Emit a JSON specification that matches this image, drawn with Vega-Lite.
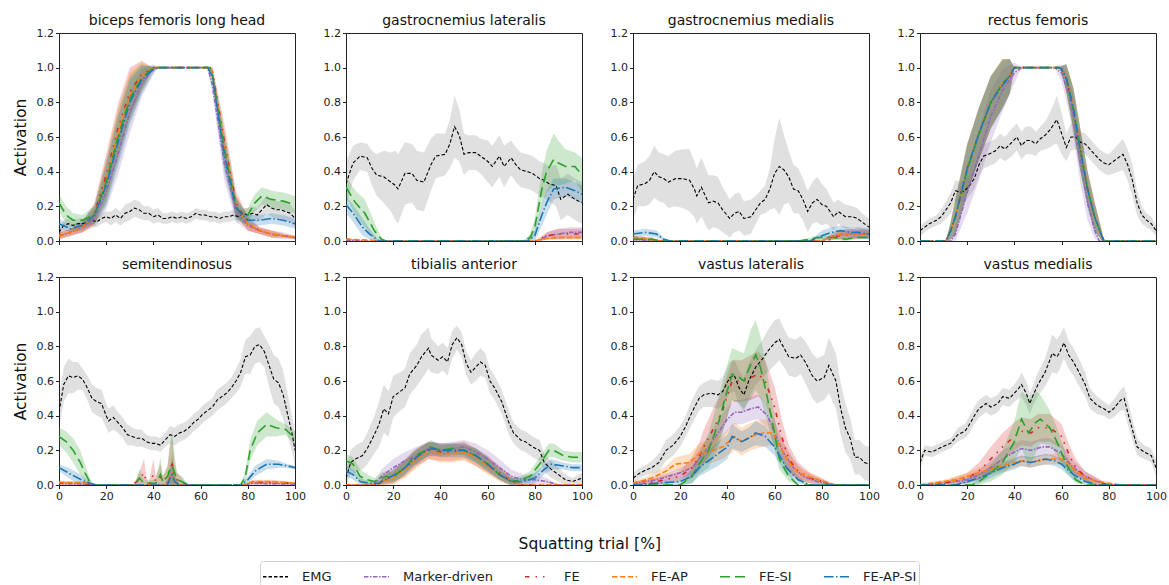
{
"$schema":"https://vega.github.io/schema/vega-lite/v6.json",
"background":"white",
"padding":{"left":12,"top":13,"right":5,"bottom":0},
"spacing":10,
"config":{
"font":"DejaVu Sans",
"view":{"stroke":"#222","strokeWidth":1},
"axis":{"domain":false,"grid":false,"ticks":true,"tickSize":3.5,"tickColor":"#222","labelFont":"DejaVu Sans","labelFontSize":11,"labelColor":"#222","labelPadding":2,"labelFlush":false,"titleFont":"DejaVu Sans","titleFontSize":15.5,"titleFontWeight":"normal","titleColor":"#111","titlePadding":8},
"title":{"font":"DejaVu Sans","fontSize":14,"fontWeight":"normal","color":"#111","offset":-1,"anchor":"middle"},
"legend":{"orient":"bottom","direction":"horizontal","title":null,"labelFont":"DejaVu Sans","labelFontSize":13,"labelColor":"#222","symbolType":"stroke","symbolSize":625,"symbolStrokeWidth":1.5,"labelOffset":13,"columnPadding":29,"strokeColor":"#d0d0d0","cornerRadius":3,"padding":2,"offset":8,"layout":{"bottom":{"anchor":"middle"}}}
},
"resolve":{"scale":{"color":"shared","strokeDash":"shared","opacity":"shared","strokeWidth":"shared","fill":"shared"},"legend":{"color":"shared","strokeDash":"shared"}},
"datasets":{
"bf":[
{"s":"E","x":0,"y":0.05,"d":0.02},{"s":"E","x":2,"y":0.09,"d":0.03},{"s":"E","x":4,"y":0.1,"d":0.03},{"s":"E","x":6,"y":0.09,"d":0.03},{"s":"E","x":8,"y":0.1,"d":0.03},{"s":"E","x":10,"y":0.1,"d":0.03},{"s":"E","x":12,"y":0.11,"d":0.03},{"s":"E","x":14,"y":0.12,"d":0.03},{"s":"E","x":16,"y":0.11,"d":0.03},{"s":"E","x":18,"y":0.13,"d":0.03},{"s":"E","x":20,"y":0.14,"d":0.03},{"s":"E","x":22,"y":0.13,"d":0.04},{"s":"E","x":24,"y":0.15,"d":0.04},{"s":"E","x":26,"y":0.13,"d":0.04},{"s":"E","x":28,"y":0.16,"d":0.05},{"s":"E","x":30,"y":0.17,"d":0.05},{"s":"E","x":32,"y":0.19,"d":0.05},{"s":"E","x":34,"y":0.18,"d":0.05},{"s":"E","x":36,"y":0.16,"d":0.04},{"s":"E","x":38,"y":0.16,"d":0.04},{"s":"E","x":40,"y":0.14,"d":0.04},{"s":"E","x":42,"y":0.15,"d":0.04},{"s":"E","x":44,"y":0.13,"d":0.03},{"s":"E","x":46,"y":0.13,"d":0.03},{"s":"E","x":48,"y":0.14,"d":0.03},{"s":"E","x":50,"y":0.13,"d":0.03},{"s":"E","x":52,"y":0.14,"d":0.03},{"s":"E","x":54,"y":0.13,"d":0.03},{"s":"E","x":56,"y":0.14,"d":0.03},{"s":"E","x":58,"y":0.16,"d":0.03},{"s":"E","x":60,"y":0.15,"d":0.03},{"s":"E","x":62,"y":0.15,"d":0.03},{"s":"E","x":64,"y":0.14,"d":0.03},{"s":"E","x":66,"y":0.14,"d":0.03},{"s":"E","x":68,"y":0.13,"d":0.03},{"s":"E","x":70,"y":0.14,"d":0.03},{"s":"E","x":72,"y":0.14,"d":0.03},{"s":"E","x":74,"y":0.15,"d":0.03},{"s":"E","x":76,"y":0.14,"d":0.03},{"s":"E","x":78,"y":0.16,"d":0.03},{"s":"E","x":80,"y":0.15,"d":0.04},{"s":"E","x":82,"y":0.16,"d":0.04},{"s":"E","x":84,"y":0.15,"d":0.04},{"s":"E","x":86,"y":0.18,"d":0.05},{"s":"E","x":88,"y":0.21,"d":0.05},{"s":"E","x":90,"y":0.19,"d":0.05},{"s":"E","x":92,"y":0.18,"d":0.05},{"s":"E","x":94,"y":0.18,"d":0.05},{"s":"E","x":96,"y":0.17,"d":0.05},{"s":"E","x":98,"y":0.16,"d":0.05},{"s":"E","x":100,"y":0.13,"d":0.05},
{"s":"M","x":0,"y":0.03,"d":0.02},{"s":"M","x":5,"y":0.05,"d":0.02},{"s":"M","x":10,"y":0.08,"d":0.03},{"s":"M","x":15,"y":0.13,"d":0.05},{"s":"M","x":20,"y":0.28,"d":0.1},{"s":"M","x":25,"y":0.5,"d":0.12},{"s":"M","x":30,"y":0.74,"d":0.12},{"s":"M","x":35,"y":0.91,"d":0.08},{"s":"M","x":40,"y":0.99,"d":0.03},{"s":"M","x":42,"y":1,"d":0},{"s":"M","x":63,"y":1,"d":0},{"s":"M","x":65,"y":0.9,"d":0.05},{"s":"M","x":70,"y":0.45,"d":0.1},{"s":"M","x":75,"y":0.17,"d":0.06},{"s":"M","x":80,"y":0.09,"d":0.03},{"s":"M","x":85,"y":0.06,"d":0.02},{"s":"M","x":90,"y":0.04,"d":0.02},{"s":"M","x":95,"y":0.03,"d":0.02},{"s":"M","x":100,"y":0.02,"d":0.01},
{"s":"F","x":0,"y":0.03,"d":0.02},{"s":"F","x":5,"y":0.05,"d":0.02},{"s":"F","x":10,"y":0.08,"d":0.03},{"s":"F","x":15,"y":0.16,"d":0.06},{"s":"F","x":20,"y":0.38,"d":0.12},{"s":"F","x":25,"y":0.65,"d":0.14},{"s":"F","x":30,"y":0.86,"d":0.14},{"s":"F","x":35,"y":0.96,"d":0.08},{"s":"F","x":40,"y":1,"d":0},{"s":"F","x":64,"y":1,"d":0},{"s":"F","x":65,"y":0.98,"d":0.03},{"s":"F","x":70,"y":0.58,"d":0.1},{"s":"F","x":75,"y":0.22,"d":0.07},{"s":"F","x":80,"y":0.1,"d":0.04},{"s":"F","x":85,"y":0.06,"d":0.02},{"s":"F","x":90,"y":0.04,"d":0.02},{"s":"F","x":95,"y":0.03,"d":0.01},{"s":"F","x":100,"y":0.02,"d":0.01},
{"s":"A","x":0,"y":0.03,"d":0.02},{"s":"A","x":5,"y":0.05,"d":0.02},{"s":"A","x":10,"y":0.08,"d":0.03},{"s":"A","x":15,"y":0.15,"d":0.06},{"s":"A","x":20,"y":0.35,"d":0.12},{"s":"A","x":25,"y":0.62,"d":0.14},{"s":"A","x":30,"y":0.84,"d":0.13},{"s":"A","x":35,"y":0.95,"d":0.08},{"s":"A","x":40,"y":1,"d":0},{"s":"A","x":64,"y":1,"d":0},{"s":"A","x":65,"y":0.97,"d":0.03},{"s":"A","x":70,"y":0.54,"d":0.1},{"s":"A","x":75,"y":0.2,"d":0.06},{"s":"A","x":80,"y":0.1,"d":0.04},{"s":"A","x":85,"y":0.06,"d":0.02},{"s":"A","x":90,"y":0.04,"d":0.02},{"s":"A","x":95,"y":0.03,"d":0.01},{"s":"A","x":100,"y":0.02,"d":0.01},
{"s":"S","x":0,"y":0.22,"d":0.05},{"s":"S","x":3,"y":0.15,"d":0.05},{"s":"S","x":6,"y":0.12,"d":0.04},{"s":"S","x":10,"y":0.12,"d":0.03},{"s":"S","x":15,"y":0.15,"d":0.05},{"s":"S","x":20,"y":0.34,"d":0.12},{"s":"S","x":25,"y":0.6,"d":0.14},{"s":"S","x":30,"y":0.82,"d":0.13},{"s":"S","x":35,"y":0.94,"d":0.08},{"s":"S","x":40,"y":1,"d":0},{"s":"S","x":64,"y":1,"d":0},{"s":"S","x":65,"y":0.96,"d":0.03},{"s":"S","x":70,"y":0.53,"d":0.1},{"s":"S","x":75,"y":0.2,"d":0.06},{"s":"S","x":78,"y":0.14,"d":0.04},{"s":"S","x":80,"y":0.15,"d":0.04},{"s":"S","x":83,"y":0.22,"d":0.05},{"s":"S","x":86,"y":0.26,"d":0.05},{"s":"S","x":90,"y":0.24,"d":0.05},{"s":"S","x":95,"y":0.23,"d":0.05},{"s":"S","x":100,"y":0.21,"d":0.05},
{"s":"P","x":0,"y":0.1,"d":0.03},{"s":"P","x":5,"y":0.07,"d":0.02},{"s":"P","x":10,"y":0.09,"d":0.03},{"s":"P","x":15,"y":0.15,"d":0.05},{"s":"P","x":20,"y":0.32,"d":0.12},{"s":"P","x":25,"y":0.57,"d":0.14},{"s":"P","x":30,"y":0.8,"d":0.13},{"s":"P","x":35,"y":0.93,"d":0.08},{"s":"P","x":40,"y":0.99,"d":0.02},{"s":"P","x":42,"y":1,"d":0},{"s":"P","x":63,"y":1,"d":0},{"s":"P","x":65,"y":0.95,"d":0.04},{"s":"P","x":70,"y":0.5,"d":0.1},{"s":"P","x":75,"y":0.19,"d":0.06},{"s":"P","x":80,"y":0.12,"d":0.03},{"s":"P","x":85,"y":0.12,"d":0.03},{"s":"P","x":90,"y":0.13,"d":0.03},{"s":"P","x":95,"y":0.12,"d":0.03},{"s":"P","x":100,"y":0.1,"d":0.03}
],
"gl":[
{"s":"E","x":0,"y":0.33,"d":0.13},{"s":"E","x":3,"y":0.45,"d":0.1},{"s":"E","x":6,"y":0.49,"d":0.08},{"s":"E","x":9,"y":0.48,"d":0.08},{"s":"E","x":11,"y":0.42,"d":0.1},{"s":"E","x":13,"y":0.38,"d":0.12},{"s":"E","x":16,"y":0.37,"d":0.15},{"s":"E","x":19,"y":0.34,"d":0.17},{"s":"E","x":21,"y":0.32,"d":0.2},{"s":"E","x":22,"y":0.3,"d":0.2},{"s":"E","x":25,"y":0.39,"d":0.18},{"s":"E","x":28,"y":0.39,"d":0.17},{"s":"E","x":30,"y":0.35,"d":0.17},{"s":"E","x":33,"y":0.34,"d":0.17},{"s":"E","x":36,"y":0.44,"d":0.15},{"s":"E","x":38,"y":0.49,"d":0.13},{"s":"E","x":42,"y":0.5,"d":0.12},{"s":"E","x":44,"y":0.56,"d":0.14},{"s":"E","x":46,"y":0.66,"d":0.18},{"s":"E","x":48,"y":0.61,"d":0.15},{"s":"E","x":50,"y":0.5,"d":0.12},{"s":"E","x":52,"y":0.51,"d":0.1},{"s":"E","x":55,"y":0.51,"d":0.1},{"s":"E","x":57,"y":0.49,"d":0.1},{"s":"E","x":60,"y":0.46,"d":0.12},{"s":"E","x":62,"y":0.43,"d":0.12},{"s":"E","x":65,"y":0.49,"d":0.12},{"s":"E","x":67,"y":0.43,"d":0.12},{"s":"E","x":70,"y":0.48,"d":0.1},{"s":"E","x":72,"y":0.44,"d":0.1},{"s":"E","x":74,"y":0.41,"d":0.1},{"s":"E","x":77,"y":0.4,"d":0.1},{"s":"E","x":79,"y":0.39,"d":0.1},{"s":"E","x":82,"y":0.36,"d":0.1},{"s":"E","x":84,"y":0.35,"d":0.1},{"s":"E","x":86,"y":0.33,"d":0.1},{"s":"E","x":89,"y":0.32,"d":0.12},{"s":"E","x":91,"y":0.24,"d":0.12},{"s":"E","x":94,"y":0.27,"d":0.12},{"s":"E","x":97,"y":0.24,"d":0.12},{"s":"E","x":100,"y":0.22,"d":0.12},
{"s":"M","x":0,"y":0.005,"d":0.005},{"s":"M","x":10,"y":0,"d":0},{"s":"M","x":82,"y":0,"d":0},{"s":"M","x":85,"y":0.03,"d":0.02},{"s":"M","x":90,"y":0.04,"d":0.03},{"s":"M","x":95,"y":0.05,"d":0.03},{"s":"M","x":100,"y":0.05,"d":0.03},
{"s":"F","x":0,"y":0.01,"d":0.005},{"s":"F","x":10,"y":0,"d":0},{"s":"F","x":80,"y":0,"d":0},{"s":"F","x":85,"y":0.03,"d":0.02},{"s":"F","x":90,"y":0.04,"d":0.03},{"s":"F","x":95,"y":0.04,"d":0.03},{"s":"F","x":100,"y":0.04,"d":0.03},
{"s":"A","x":0,"y":0.01,"d":0.005},{"s":"A","x":10,"y":0.005,"d":0},{"s":"A","x":15,"y":0,"d":0},{"s":"A","x":80,"y":0,"d":0},{"s":"A","x":85,"y":0.015,"d":0.01},{"s":"A","x":90,"y":0.02,"d":0.01},{"s":"A","x":100,"y":0.02,"d":0.01},
{"s":"S","x":0,"y":0.31,"d":0.06},{"s":"S","x":4,"y":0.22,"d":0.07},{"s":"S","x":8,"y":0.16,"d":0.08},{"s":"S","x":12,"y":0.06,"d":0.05},{"s":"S","x":15,"y":0.01,"d":0.01},{"s":"S","x":17,"y":0,"d":0},{"s":"S","x":75,"y":0,"d":0},{"s":"S","x":78,"y":0.02,"d":0.02},{"s":"S","x":80,"y":0.08,"d":0.05},{"s":"S","x":83,"y":0.3,"d":0.1},{"s":"S","x":85,"y":0.4,"d":0.12},{"s":"S","x":88,"y":0.47,"d":0.15},{"s":"S","x":90,"y":0.45,"d":0.13},{"s":"S","x":93,"y":0.43,"d":0.1},{"s":"S","x":97,"y":0.43,"d":0.08},{"s":"S","x":100,"y":0.38,"d":0.1},
{"s":"P","x":0,"y":0.21,"d":0.05},{"s":"P","x":3,"y":0.16,"d":0.05},{"s":"P","x":7,"y":0.08,"d":0.05},{"s":"P","x":10,"y":0.04,"d":0.03},{"s":"P","x":14,"y":0,"d":0},{"s":"P","x":77,"y":0,"d":0},{"s":"P","x":80,"y":0.03,"d":0.03},{"s":"P","x":83,"y":0.15,"d":0.06},{"s":"P","x":85,"y":0.22,"d":0.07},{"s":"P","x":88,"y":0.3,"d":0.06},{"s":"P","x":93,"y":0.31,"d":0.05},{"s":"P","x":97,"y":0.29,"d":0.05},{"s":"P","x":100,"y":0.27,"d":0.05}
],
"gm":[
{"s":"E","x":0,"y":0.24,"d":0.12},{"s":"E","x":2,"y":0.32,"d":0.12},{"s":"E","x":5,"y":0.33,"d":0.13},{"s":"E","x":7,"y":0.35,"d":0.14},{"s":"E","x":9,"y":0.4,"d":0.15},{"s":"E","x":11,"y":0.37,"d":0.14},{"s":"E","x":13,"y":0.36,"d":0.14},{"s":"E","x":15,"y":0.34,"d":0.15},{"s":"E","x":18,"y":0.36,"d":0.16},{"s":"E","x":21,"y":0.36,"d":0.17},{"s":"E","x":24,"y":0.35,"d":0.18},{"s":"E","x":26,"y":0.3,"d":0.16},{"s":"E","x":27,"y":0.26,"d":0.16},{"s":"E","x":29,"y":0.31,"d":0.17},{"s":"E","x":32,"y":0.22,"d":0.16},{"s":"E","x":34,"y":0.23,"d":0.15},{"s":"E","x":36,"y":0.22,"d":0.15},{"s":"E","x":38,"y":0.18,"d":0.13},{"s":"E","x":41,"y":0.13,"d":0.11},{"s":"E","x":43,"y":0.16,"d":0.11},{"s":"E","x":45,"y":0.17,"d":0.11},{"s":"E","x":47,"y":0.13,"d":0.1},{"s":"E","x":50,"y":0.14,"d":0.1},{"s":"E","x":52,"y":0.18,"d":0.08},{"s":"E","x":54,"y":0.22,"d":0.07},{"s":"E","x":56,"y":0.24,"d":0.08},{"s":"E","x":58,"y":0.3,"d":0.12},{"s":"E","x":60,"y":0.39,"d":0.2},{"s":"E","x":62,"y":0.43,"d":0.28},{"s":"E","x":64,"y":0.41,"d":0.2},{"s":"E","x":66,"y":0.37,"d":0.15},{"s":"E","x":68,"y":0.3,"d":0.14},{"s":"E","x":70,"y":0.29,"d":0.13},{"s":"E","x":72,"y":0.24,"d":0.12},{"s":"E","x":74,"y":0.17,"d":0.12},{"s":"E","x":76,"y":0.22,"d":0.12},{"s":"E","x":78,"y":0.24,"d":0.13},{"s":"E","x":80,"y":0.21,"d":0.12},{"s":"E","x":82,"y":0.2,"d":0.1},{"s":"E","x":85,"y":0.14,"d":0.08},{"s":"E","x":87,"y":0.17,"d":0.07},{"s":"E","x":90,"y":0.14,"d":0.07},{"s":"E","x":93,"y":0.14,"d":0.06},{"s":"E","x":95,"y":0.13,"d":0.06},{"s":"E","x":97,"y":0.11,"d":0.05},{"s":"E","x":100,"y":0.08,"d":0.05},
{"s":"M","x":0,"y":0.01,"d":0.01},{"s":"M","x":10,"y":0,"d":0},{"s":"M","x":80,"y":0,"d":0},{"s":"M","x":85,"y":0.03,"d":0.02},{"s":"M","x":90,"y":0.04,"d":0.03},{"s":"M","x":100,"y":0.04,"d":0.03},
{"s":"F","x":0,"y":0.02,"d":0.01},{"s":"F","x":8,"y":0.01,"d":0.01},{"s":"F","x":12,"y":0,"d":0},{"s":"F","x":82,"y":0,"d":0},{"s":"F","x":87,"y":0.03,"d":0.02},{"s":"F","x":92,"y":0.04,"d":0.03},{"s":"F","x":100,"y":0.04,"d":0.02},
{"s":"A","x":0,"y":0.02,"d":0.01},{"s":"A","x":5,"y":0.015,"d":0.01},{"s":"A","x":10,"y":0,"d":0},{"s":"A","x":80,"y":0,"d":0},{"s":"A","x":85,"y":0.03,"d":0.02},{"s":"A","x":90,"y":0.04,"d":0.02},{"s":"A","x":100,"y":0.04,"d":0.02},
{"s":"S","x":0,"y":0.01,"d":0.01},{"s":"S","x":8,"y":0.01,"d":0.01},{"s":"S","x":12,"y":0,"d":0},{"s":"S","x":70,"y":0,"d":0},{"s":"S","x":75,"y":0.01,"d":0.01},{"s":"S","x":78,"y":0.02,"d":0.01},{"s":"S","x":85,"y":0.02,"d":0.01},{"s":"S","x":90,"y":0.01,"d":0.01},{"s":"S","x":95,"y":0.02,"d":0.01},{"s":"S","x":100,"y":0.02,"d":0.01},
{"s":"P","x":0,"y":0.04,"d":0.02},{"s":"P","x":5,"y":0.05,"d":0.02},{"s":"P","x":10,"y":0.04,"d":0.02},{"s":"P","x":13,"y":0.01,"d":0.01},{"s":"P","x":16,"y":0,"d":0},{"s":"P","x":75,"y":0,"d":0},{"s":"P","x":80,"y":0.03,"d":0.03},{"s":"P","x":84,"y":0.05,"d":0.03},{"s":"P","x":88,"y":0.06,"d":0.03},{"s":"P","x":92,"y":0.05,"d":0.03},{"s":"P","x":96,"y":0.05,"d":0.03},{"s":"P","x":100,"y":0.04,"d":0.03}
],
"rf":[
{"s":"E","x":0,"y":0.06,"d":0.03},{"s":"E","x":2,"y":0.08,"d":0.03},{"s":"E","x":4,"y":0.1,"d":0.03},{"s":"E","x":7,"y":0.12,"d":0.03},{"s":"E","x":9,"y":0.14,"d":0.04},{"s":"E","x":11,"y":0.18,"d":0.05},{"s":"E","x":13,"y":0.22,"d":0.06},{"s":"E","x":15,"y":0.29,"d":0.06},{"s":"E","x":17,"y":0.28,"d":0.06},{"s":"E","x":19,"y":0.29,"d":0.06},{"s":"E","x":21,"y":0.32,"d":0.06},{"s":"E","x":23,"y":0.36,"d":0.06},{"s":"E","x":25,"y":0.44,"d":0.07},{"s":"E","x":27,"y":0.49,"d":0.07},{"s":"E","x":29,"y":0.5,"d":0.07},{"s":"E","x":32,"y":0.52,"d":0.07},{"s":"E","x":34,"y":0.55,"d":0.07},{"s":"E","x":36,"y":0.53,"d":0.07},{"s":"E","x":39,"y":0.57,"d":0.08},{"s":"E","x":41,"y":0.6,"d":0.08},{"s":"E","x":43,"y":0.55,"d":0.08},{"s":"E","x":45,"y":0.58,"d":0.08},{"s":"E","x":47,"y":0.58,"d":0.08},{"s":"E","x":49,"y":0.56,"d":0.07},{"s":"E","x":51,"y":0.59,"d":0.07},{"s":"E","x":53,"y":0.61,"d":0.08},{"s":"E","x":55,"y":0.64,"d":0.1},{"s":"E","x":57,"y":0.68,"d":0.12},{"s":"E","x":58,"y":0.7,"d":0.14},{"s":"E","x":60,"y":0.62,"d":0.12},{"s":"E","x":62,"y":0.54,"d":0.08},{"s":"E","x":64,"y":0.6,"d":0.08},{"s":"E","x":66,"y":0.6,"d":0.07},{"s":"E","x":68,"y":0.57,"d":0.06},{"s":"E","x":70,"y":0.56,"d":0.06},{"s":"E","x":72,"y":0.53,"d":0.06},{"s":"E","x":74,"y":0.5,"d":0.06},{"s":"E","x":76,"y":0.47,"d":0.06},{"s":"E","x":78,"y":0.45,"d":0.06},{"s":"E","x":80,"y":0.44,"d":0.06},{"s":"E","x":82,"y":0.46,"d":0.07},{"s":"E","x":84,"y":0.48,"d":0.08},{"s":"E","x":86,"y":0.5,"d":0.09},{"s":"E","x":88,"y":0.44,"d":0.09},{"s":"E","x":90,"y":0.35,"d":0.09},{"s":"E","x":92,"y":0.22,"d":0.07},{"s":"E","x":94,"y":0.15,"d":0.05},{"s":"E","x":96,"y":0.12,"d":0.04},{"s":"E","x":98,"y":0.1,"d":0.04},{"s":"E","x":100,"y":0.06,"d":0.03},
{"s":"M","x":0,"y":0,"d":0},{"s":"M","x":13,"y":0,"d":0},{"s":"M","x":15,"y":0.04,"d":0.04},{"s":"M","x":20,"y":0.28,"d":0.12},{"s":"M","x":25,"y":0.5,"d":0.15},{"s":"M","x":30,"y":0.72,"d":0.15},{"s":"M","x":35,"y":0.87,"d":0.12},{"s":"M","x":40,"y":0.97,"d":0.06},{"s":"M","x":43,"y":1,"d":0},{"s":"M","x":57,"y":1,"d":0},{"s":"M","x":60,"y":0.97,"d":0.05},{"s":"M","x":63,"y":0.85,"d":0.1},{"s":"M","x":65,"y":0.72,"d":0.12},{"s":"M","x":68,"y":0.45,"d":0.12},{"s":"M","x":71,"y":0.22,"d":0.1},{"s":"M","x":74,"y":0.06,"d":0.05},{"s":"M","x":76,"y":0,"d":0},{"s":"M","x":100,"y":0,"d":0},
{"s":"F","x":0,"y":0,"d":0},{"s":"F","x":11,"y":0,"d":0},{"s":"F","x":13,"y":0.06,"d":0.05},{"s":"F","x":15,"y":0.14,"d":0.1},{"s":"F","x":20,"y":0.42,"d":0.14},{"s":"F","x":25,"y":0.62,"d":0.15},{"s":"F","x":30,"y":0.8,"d":0.15},{"s":"F","x":35,"y":0.91,"d":0.14},{"s":"F","x":38,"y":0.95,"d":0.1},{"s":"F","x":40,"y":1,"d":0},{"s":"F","x":59,"y":1,"d":0},{"s":"F","x":60,"y":0.99,"d":0.02},{"s":"F","x":62,"y":0.94,"d":0.08},{"s":"F","x":65,"y":0.76,"d":0.12},{"s":"F","x":68,"y":0.52,"d":0.12},{"s":"F","x":71,"y":0.3,"d":0.1},{"s":"F","x":74,"y":0.14,"d":0.08},{"s":"F","x":77,"y":0.03,"d":0.03},{"s":"F","x":78,"y":0,"d":0},{"s":"F","x":100,"y":0,"d":0},
{"s":"A","x":0,"y":0,"d":0},{"s":"A","x":11,"y":0,"d":0},{"s":"A","x":13,"y":0.06,"d":0.05},{"s":"A","x":15,"y":0.14,"d":0.1},{"s":"A","x":20,"y":0.42,"d":0.14},{"s":"A","x":25,"y":0.62,"d":0.15},{"s":"A","x":30,"y":0.8,"d":0.15},{"s":"A","x":35,"y":0.91,"d":0.14},{"s":"A","x":38,"y":0.95,"d":0.1},{"s":"A","x":40,"y":1,"d":0},{"s":"A","x":59,"y":1,"d":0},{"s":"A","x":60,"y":0.99,"d":0.02},{"s":"A","x":62,"y":0.94,"d":0.08},{"s":"A","x":65,"y":0.77,"d":0.12},{"s":"A","x":68,"y":0.53,"d":0.12},{"s":"A","x":71,"y":0.31,"d":0.1},{"s":"A","x":74,"y":0.15,"d":0.08},{"s":"A","x":77,"y":0.03,"d":0.03},{"s":"A","x":78,"y":0,"d":0},{"s":"A","x":100,"y":0,"d":0},
{"s":"S","x":0,"y":0,"d":0},{"s":"S","x":11,"y":0,"d":0},{"s":"S","x":13,"y":0.06,"d":0.05},{"s":"S","x":15,"y":0.14,"d":0.1},{"s":"S","x":20,"y":0.41,"d":0.14},{"s":"S","x":25,"y":0.62,"d":0.15},{"s":"S","x":30,"y":0.8,"d":0.15},{"s":"S","x":35,"y":0.91,"d":0.14},{"s":"S","x":38,"y":0.95,"d":0.1},{"s":"S","x":40,"y":1,"d":0},{"s":"S","x":59,"y":1,"d":0},{"s":"S","x":60,"y":0.99,"d":0.02},{"s":"S","x":62,"y":0.94,"d":0.08},{"s":"S","x":65,"y":0.76,"d":0.12},{"s":"S","x":68,"y":0.52,"d":0.12},{"s":"S","x":71,"y":0.3,"d":0.1},{"s":"S","x":74,"y":0.14,"d":0.08},{"s":"S","x":77,"y":0.03,"d":0.03},{"s":"S","x":78,"y":0,"d":0},{"s":"S","x":100,"y":0,"d":0},
{"s":"P","x":0,"y":0,"d":0},{"s":"P","x":11,"y":0,"d":0},{"s":"P","x":13,"y":0.06,"d":0.05},{"s":"P","x":15,"y":0.14,"d":0.1},{"s":"P","x":20,"y":0.42,"d":0.14},{"s":"P","x":25,"y":0.62,"d":0.15},{"s":"P","x":30,"y":0.8,"d":0.15},{"s":"P","x":35,"y":0.9,"d":0.14},{"s":"P","x":38,"y":0.95,"d":0.1},{"s":"P","x":40,"y":1,"d":0},{"s":"P","x":59,"y":1,"d":0},{"s":"P","x":60,"y":0.99,"d":0.02},{"s":"P","x":62,"y":0.94,"d":0.08},{"s":"P","x":65,"y":0.76,"d":0.12},{"s":"P","x":68,"y":0.52,"d":0.12},{"s":"P","x":71,"y":0.3,"d":0.1},{"s":"P","x":74,"y":0.14,"d":0.08},{"s":"P","x":77,"y":0.03,"d":0.03},{"s":"P","x":78,"y":0,"d":0},{"s":"P","x":100,"y":0,"d":0}
],
"st":[
{"s":"E","x":0,"y":0.42,"d":0.1},{"s":"E","x":2,"y":0.58,"d":0.1},{"s":"E","x":4,"y":0.63,"d":0.1},{"s":"E","x":6,"y":0.62,"d":0.09},{"s":"E","x":8,"y":0.63,"d":0.08},{"s":"E","x":10,"y":0.61,"d":0.06},{"s":"E","x":12,"y":0.56,"d":0.07},{"s":"E","x":14,"y":0.5,"d":0.08},{"s":"E","x":16,"y":0.48,"d":0.08},{"s":"E","x":18,"y":0.47,"d":0.08},{"s":"E","x":20,"y":0.4,"d":0.07},{"s":"E","x":21,"y":0.37,"d":0.07},{"s":"E","x":23,"y":0.39,"d":0.07},{"s":"E","x":25,"y":0.36,"d":0.06},{"s":"E","x":27,"y":0.33,"d":0.06},{"s":"E","x":29,"y":0.29,"d":0.06},{"s":"E","x":31,"y":0.28,"d":0.05},{"s":"E","x":33,"y":0.27,"d":0.05},{"s":"E","x":35,"y":0.27,"d":0.05},{"s":"E","x":37,"y":0.25,"d":0.04},{"s":"E","x":39,"y":0.24,"d":0.04},{"s":"E","x":41,"y":0.24,"d":0.04},{"s":"E","x":43,"y":0.23,"d":0.04},{"s":"E","x":45,"y":0.26,"d":0.04},{"s":"E","x":47,"y":0.29,"d":0.05},{"s":"E","x":49,"y":0.28,"d":0.05},{"s":"E","x":51,"y":0.3,"d":0.05},{"s":"E","x":53,"y":0.31,"d":0.05},{"s":"E","x":55,"y":0.33,"d":0.05},{"s":"E","x":57,"y":0.36,"d":0.05},{"s":"E","x":59,"y":0.38,"d":0.05},{"s":"E","x":61,"y":0.41,"d":0.05},{"s":"E","x":63,"y":0.43,"d":0.05},{"s":"E","x":65,"y":0.45,"d":0.05},{"s":"E","x":67,"y":0.49,"d":0.06},{"s":"E","x":69,"y":0.51,"d":0.06},{"s":"E","x":71,"y":0.53,"d":0.06},{"s":"E","x":73,"y":0.56,"d":0.06},{"s":"E","x":75,"y":0.6,"d":0.07},{"s":"E","x":77,"y":0.65,"d":0.08},{"s":"E","x":79,"y":0.74,"d":0.1},{"s":"E","x":81,"y":0.75,"d":0.11},{"s":"E","x":83,"y":0.8,"d":0.1},{"s":"E","x":85,"y":0.81,"d":0.1},{"s":"E","x":87,"y":0.77,"d":0.09},{"s":"E","x":89,"y":0.69,"d":0.12},{"s":"E","x":91,"y":0.61,"d":0.14},{"s":"E","x":93,"y":0.59,"d":0.14},{"s":"E","x":95,"y":0.52,"d":0.14},{"s":"E","x":97,"y":0.4,"d":0.12},{"s":"E","x":99,"y":0.28,"d":0.1},{"s":"E","x":100,"y":0.2,"d":0.1},
{"s":"M","x":0,"y":0.01,"d":0.01},{"s":"M","x":10,"y":0.005,"d":0},{"s":"M","x":15,"y":0,"d":0},{"s":"M","x":45,"y":0,"d":0},{"s":"M","x":47,"y":0.04,"d":0.04},{"s":"M","x":48,"y":0.06,"d":0.08},{"s":"M","x":49,"y":0.02,"d":0.03},{"s":"M","x":51,"y":0,"d":0},{"s":"M","x":78,"y":0,"d":0},{"s":"M","x":82,"y":0.01,"d":0.01},{"s":"M","x":100,"y":0.005,"d":0.005},
{"s":"F","x":0,"y":0.01,"d":0.01},{"s":"F","x":10,"y":0.01,"d":0.01},{"s":"F","x":15,"y":0,"d":0},{"s":"F","x":31,"y":0,"d":0},{"s":"F","x":33,"y":0.02,"d":0.02},{"s":"F","x":35,"y":0.05,"d":0.06},{"s":"F","x":36,"y":0.07,"d":0.08},{"s":"F","x":37,"y":0.02,"d":0.03},{"s":"F","x":38,"y":0,"d":0.01},{"s":"F","x":40,"y":0.06,"d":0.09},{"s":"F","x":41,"y":0.02,"d":0.03},{"s":"F","x":43,"y":0.05,"d":0.07},{"s":"F","x":44,"y":0.02,"d":0.03},{"s":"F","x":46,"y":0.05,"d":0.06},{"s":"F","x":47,"y":0.1,"d":0.12},{"s":"F","x":48,"y":0.12,"d":0.15},{"s":"F","x":49,"y":0.05,"d":0.08},{"s":"F","x":50,"y":0.03,"d":0.04},{"s":"F","x":52,"y":0.02,"d":0.02},{"s":"F","x":54,"y":0,"d":0},{"s":"F","x":78,"y":0,"d":0},{"s":"F","x":82,"y":0.015,"d":0.01},{"s":"F","x":90,"y":0.015,"d":0.01},{"s":"F","x":100,"y":0.01,"d":0.005},
{"s":"A","x":0,"y":0.015,"d":0.01},{"s":"A","x":13,"y":0.01,"d":0.01},{"s":"A","x":16,"y":0,"d":0},{"s":"A","x":45,"y":0,"d":0},{"s":"A","x":47,"y":0.04,"d":0.06},{"s":"A","x":48,"y":0.07,"d":0.12},{"s":"A","x":49,"y":0.02,"d":0.04},{"s":"A","x":51,"y":0,"d":0},{"s":"A","x":78,"y":0,"d":0},{"s":"A","x":82,"y":0.02,"d":0.01},{"s":"A","x":90,"y":0.02,"d":0.01},{"s":"A","x":100,"y":0.01,"d":0.01},
{"s":"S","x":0,"y":0.28,"d":0.05},{"s":"S","x":3,"y":0.25,"d":0.06},{"s":"S","x":6,"y":0.2,"d":0.07},{"s":"S","x":9,"y":0.13,"d":0.07},{"s":"S","x":11,"y":0.07,"d":0.05},{"s":"S","x":13,"y":0.02,"d":0.02},{"s":"S","x":15,"y":0,"d":0},{"s":"S","x":32,"y":0,"d":0},{"s":"S","x":34,"y":0.04,"d":0.05},{"s":"S","x":36,"y":0.01,"d":0.02},{"s":"S","x":41,"y":0.01,"d":0.02},{"s":"S","x":43,"y":0.06,"d":0.1},{"s":"S","x":44,"y":0.02,"d":0.03},{"s":"S","x":46,"y":0.05,"d":0.06},{"s":"S","x":47,"y":0.09,"d":0.15},{"s":"S","x":48,"y":0.11,"d":0.2},{"s":"S","x":49,"y":0.07,"d":0.1},{"s":"S","x":50,"y":0.03,"d":0.04},{"s":"S","x":52,"y":0.02,"d":0.03},{"s":"S","x":55,"y":0,"d":0},{"s":"S","x":77,"y":0,"d":0},{"s":"S","x":79,"y":0.05,"d":0.04},{"s":"S","x":81,"y":0.2,"d":0.06},{"s":"S","x":84,"y":0.3,"d":0.07},{"s":"S","x":88,"y":0.35,"d":0.07},{"s":"S","x":92,"y":0.33,"d":0.05},{"s":"S","x":96,"y":0.32,"d":0.03},{"s":"S","x":100,"y":0.27,"d":0.04},
{"s":"P","x":0,"y":0.1,"d":0.02},{"s":"P","x":4,"y":0.07,"d":0.03},{"s":"P","x":8,"y":0.04,"d":0.03},{"s":"P","x":11,"y":0.02,"d":0.02},{"s":"P","x":14,"y":0.005,"d":0.005},{"s":"P","x":16,"y":0,"d":0},{"s":"P","x":46,"y":0,"d":0},{"s":"P","x":47,"y":0.04,"d":0.05},{"s":"P","x":48,"y":0.06,"d":0.1},{"s":"P","x":49,"y":0.02,"d":0.03},{"s":"P","x":51,"y":0,"d":0},{"s":"P","x":77,"y":0,"d":0},{"s":"P","x":80,"y":0.03,"d":0.02},{"s":"P","x":83,"y":0.08,"d":0.03},{"s":"P","x":88,"y":0.12,"d":0.03},{"s":"P","x":93,"y":0.12,"d":0.02},{"s":"P","x":97,"y":0.11,"d":0.01},{"s":"P","x":100,"y":0.1,"d":0.01}
],
"ta":[
{"s":"E","x":0,"y":0.04,"d":0.05},{"s":"E","x":2,"y":0.13,"d":0.07},{"s":"E","x":4,"y":0.15,"d":0.08},{"s":"E","x":7,"y":0.17,"d":0.08},{"s":"E","x":9,"y":0.21,"d":0.09},{"s":"E","x":12,"y":0.29,"d":0.11},{"s":"E","x":14,"y":0.35,"d":0.13},{"s":"E","x":16,"y":0.44,"d":0.14},{"s":"E","x":18,"y":0.41,"d":0.13},{"s":"E","x":20,"y":0.51,"d":0.12},{"s":"E","x":23,"y":0.54,"d":0.11},{"s":"E","x":25,"y":0.56,"d":0.11},{"s":"E","x":27,"y":0.64,"d":0.12},{"s":"E","x":30,"y":0.69,"d":0.12},{"s":"E","x":32,"y":0.74,"d":0.13},{"s":"E","x":35,"y":0.79,"d":0.12},{"s":"E","x":36,"y":0.75,"d":0.1},{"s":"E","x":39,"y":0.72,"d":0.08},{"s":"E","x":41,"y":0.74,"d":0.08},{"s":"E","x":43,"y":0.71,"d":0.08},{"s":"E","x":45,"y":0.81,"d":0.08},{"s":"E","x":47,"y":0.85,"d":0.07},{"s":"E","x":49,"y":0.81,"d":0.07},{"s":"E","x":51,"y":0.7,"d":0.07},{"s":"E","x":53,"y":0.65,"d":0.07},{"s":"E","x":55,"y":0.68,"d":0.08},{"s":"E","x":57,"y":0.71,"d":0.08},{"s":"E","x":59,"y":0.69,"d":0.07},{"s":"E","x":61,"y":0.6,"d":0.07},{"s":"E","x":63,"y":0.56,"d":0.07},{"s":"E","x":66,"y":0.48,"d":0.07},{"s":"E","x":69,"y":0.36,"d":0.07},{"s":"E","x":71,"y":0.3,"d":0.06},{"s":"E","x":74,"y":0.26,"d":0.06},{"s":"E","x":76,"y":0.25,"d":0.06},{"s":"E","x":79,"y":0.22,"d":0.06},{"s":"E","x":82,"y":0.2,"d":0.06},{"s":"E","x":84,"y":0.13,"d":0.05},{"s":"E","x":87,"y":0.09,"d":0.05},{"s":"E","x":90,"y":0.06,"d":0.04},{"s":"E","x":93,"y":0.03,"d":0.03},{"s":"E","x":96,"y":0.02,"d":0.02},{"s":"E","x":100,"y":0.04,"d":0.03},
{"s":"M","x":0,"y":0,"d":0},{"s":"M","x":12,"y":0,"d":0.01},{"s":"M","x":15,"y":0.05,"d":0.04},{"s":"M","x":20,"y":0.1,"d":0.05},{"s":"M","x":25,"y":0.14,"d":0.05},{"s":"M","x":30,"y":0.17,"d":0.05},{"s":"M","x":35,"y":0.21,"d":0.04},{"s":"M","x":40,"y":0.2,"d":0.04},{"s":"M","x":45,"y":0.21,"d":0.04},{"s":"M","x":50,"y":0.22,"d":0.04},{"s":"M","x":55,"y":0.19,"d":0.05},{"s":"M","x":60,"y":0.15,"d":0.05},{"s":"M","x":65,"y":0.1,"d":0.05},{"s":"M","x":70,"y":0.05,"d":0.04},{"s":"M","x":75,"y":0.03,"d":0.03},{"s":"M","x":80,"y":0.03,"d":0.03},{"s":"M","x":85,"y":0.02,"d":0.02},{"s":"M","x":90,"y":0,"d":0},{"s":"M","x":100,"y":0,"d":0},
{"s":"F","x":0,"y":0,"d":0},{"s":"F","x":13,"y":0,"d":0},{"s":"F","x":16,"y":0.03,"d":0.03},{"s":"F","x":20,"y":0.05,"d":0.04},{"s":"F","x":25,"y":0.1,"d":0.05},{"s":"F","x":30,"y":0.16,"d":0.05},{"s":"F","x":35,"y":0.2,"d":0.05},{"s":"F","x":40,"y":0.19,"d":0.05},{"s":"F","x":45,"y":0.19,"d":0.05},{"s":"F","x":50,"y":0.2,"d":0.05},{"s":"F","x":55,"y":0.16,"d":0.05},{"s":"F","x":60,"y":0.12,"d":0.05},{"s":"F","x":65,"y":0.07,"d":0.04},{"s":"F","x":70,"y":0.02,"d":0.03},{"s":"F","x":75,"y":0,"d":0},{"s":"F","x":100,"y":0,"d":0},
{"s":"A","x":0,"y":0,"d":0},{"s":"A","x":13,"y":0,"d":0},{"s":"A","x":16,"y":0.02,"d":0.03},{"s":"A","x":20,"y":0.04,"d":0.04},{"s":"A","x":25,"y":0.09,"d":0.05},{"s":"A","x":30,"y":0.15,"d":0.05},{"s":"A","x":35,"y":0.2,"d":0.05},{"s":"A","x":40,"y":0.18,"d":0.05},{"s":"A","x":45,"y":0.18,"d":0.05},{"s":"A","x":50,"y":0.19,"d":0.05},{"s":"A","x":55,"y":0.16,"d":0.05},{"s":"A","x":60,"y":0.11,"d":0.05},{"s":"A","x":65,"y":0.06,"d":0.04},{"s":"A","x":70,"y":0.02,"d":0.02},{"s":"A","x":75,"y":0,"d":0},{"s":"A","x":100,"y":0,"d":0},
{"s":"S","x":0,"y":0.14,"d":0.04},{"s":"S","x":3,"y":0.12,"d":0.04},{"s":"S","x":6,"y":0.05,"d":0.04},{"s":"S","x":9,"y":0.03,"d":0.03},{"s":"S","x":12,"y":0.02,"d":0.02},{"s":"S","x":15,"y":0.04,"d":0.03},{"s":"S","x":17,"y":0.05,"d":0.03},{"s":"S","x":20,"y":0.04,"d":0.03},{"s":"S","x":22,"y":0.07,"d":0.04},{"s":"S","x":25,"y":0.1,"d":0.04},{"s":"S","x":28,"y":0.15,"d":0.04},{"s":"S","x":31,"y":0.18,"d":0.04},{"s":"S","x":34,"y":0.2,"d":0.04},{"s":"S","x":36,"y":0.22,"d":0.04},{"s":"S","x":40,"y":0.2,"d":0.03},{"s":"S","x":45,"y":0.21,"d":0.03},{"s":"S","x":50,"y":0.2,"d":0.03},{"s":"S","x":55,"y":0.17,"d":0.04},{"s":"S","x":60,"y":0.12,"d":0.04},{"s":"S","x":65,"y":0.06,"d":0.03},{"s":"S","x":70,"y":0.02,"d":0.02},{"s":"S","x":74,"y":0.03,"d":0.02},{"s":"S","x":78,"y":0.05,"d":0.03},{"s":"S","x":82,"y":0.12,"d":0.04},{"s":"S","x":86,"y":0.2,"d":0.04},{"s":"S","x":88,"y":0.2,"d":0.04},{"s":"S","x":92,"y":0.17,"d":0.03},{"s":"S","x":96,"y":0.16,"d":0.03},{"s":"S","x":100,"y":0.16,"d":0.03},
{"s":"P","x":0,"y":0.08,"d":0.03},{"s":"P","x":3,"y":0.06,"d":0.03},{"s":"P","x":6,"y":0.02,"d":0.02},{"s":"P","x":10,"y":0.01,"d":0.01},{"s":"P","x":14,"y":0.01,"d":0.01},{"s":"P","x":18,"y":0.04,"d":0.03},{"s":"P","x":22,"y":0.07,"d":0.04},{"s":"P","x":25,"y":0.1,"d":0.04},{"s":"P","x":29,"y":0.15,"d":0.04},{"s":"P","x":34,"y":0.2,"d":0.04},{"s":"P","x":37,"y":0.21,"d":0.04},{"s":"P","x":41,"y":0.2,"d":0.04},{"s":"P","x":46,"y":0.2,"d":0.04},{"s":"P","x":50,"y":0.2,"d":0.04},{"s":"P","x":55,"y":0.17,"d":0.04},{"s":"P","x":60,"y":0.12,"d":0.04},{"s":"P","x":65,"y":0.06,"d":0.03},{"s":"P","x":70,"y":0.02,"d":0.02},{"s":"P","x":75,"y":0.02,"d":0.02},{"s":"P","x":80,"y":0.04,"d":0.03},{"s":"P","x":84,"y":0.09,"d":0.03},{"s":"P","x":87,"y":0.12,"d":0.03},{"s":"P","x":92,"y":0.11,"d":0.02},{"s":"P","x":96,"y":0.1,"d":0.02},{"s":"P","x":100,"y":0.1,"d":0.02}
],
"vl":[
{"s":"E","x":0,"y":0.04,"d":0.03},{"s":"E","x":3,"y":0.07,"d":0.03},{"s":"E","x":6,"y":0.09,"d":0.03},{"s":"E","x":8,"y":0.1,"d":0.04},{"s":"E","x":11,"y":0.13,"d":0.05},{"s":"E","x":14,"y":0.2,"d":0.06},{"s":"E","x":17,"y":0.23,"d":0.06},{"s":"E","x":20,"y":0.28,"d":0.06},{"s":"E","x":22,"y":0.33,"d":0.06},{"s":"E","x":25,"y":0.42,"d":0.07},{"s":"E","x":28,"y":0.5,"d":0.07},{"s":"E","x":30,"y":0.52,"d":0.07},{"s":"E","x":33,"y":0.53,"d":0.08},{"s":"E","x":36,"y":0.52,"d":0.08},{"s":"E","x":38,"y":0.54,"d":0.08},{"s":"E","x":41,"y":0.62,"d":0.09},{"s":"E","x":43,"y":0.63,"d":0.09},{"s":"E","x":45,"y":0.56,"d":0.1},{"s":"E","x":47,"y":0.52,"d":0.1},{"s":"E","x":49,"y":0.6,"d":0.1},{"s":"E","x":52,"y":0.68,"d":0.1},{"s":"E","x":55,"y":0.73,"d":0.11},{"s":"E","x":57,"y":0.77,"d":0.12},{"s":"E","x":60,"y":0.82,"d":0.13},{"s":"E","x":62,"y":0.84,"d":0.12},{"s":"E","x":64,"y":0.79,"d":0.11},{"s":"E","x":66,"y":0.74,"d":0.11},{"s":"E","x":69,"y":0.73,"d":0.11},{"s":"E","x":71,"y":0.75,"d":0.11},{"s":"E","x":73,"y":0.71,"d":0.12},{"s":"E","x":76,"y":0.63,"d":0.13},{"s":"E","x":78,"y":0.6,"d":0.13},{"s":"E","x":81,"y":0.62,"d":0.13},{"s":"E","x":83,"y":0.69,"d":0.16},{"s":"E","x":86,"y":0.6,"d":0.16},{"s":"E","x":88,"y":0.44,"d":0.15},{"s":"E","x":90,"y":0.33,"d":0.14},{"s":"E","x":92,"y":0.27,"d":0.12},{"s":"E","x":94,"y":0.16,"d":0.1},{"s":"E","x":96,"y":0.16,"d":0.1},{"s":"E","x":98,"y":0.13,"d":0.1},{"s":"E","x":100,"y":0.12,"d":0.1},
{"s":"M","x":0,"y":0.01,"d":0.01},{"s":"M","x":5,"y":0.02,"d":0.01},{"s":"M","x":10,"y":0.03,"d":0.02},{"s":"M","x":15,"y":0.05,"d":0.02},{"s":"M","x":20,"y":0.07,"d":0.03},{"s":"M","x":25,"y":0.1,"d":0.04},{"s":"M","x":28,"y":0.15,"d":0.05},{"s":"M","x":32,"y":0.22,"d":0.06},{"s":"M","x":36,"y":0.3,"d":0.07},{"s":"M","x":40,"y":0.38,"d":0.07},{"s":"M","x":43,"y":0.42,"d":0.07},{"s":"M","x":46,"y":0.42,"d":0.07},{"s":"M","x":50,"y":0.44,"d":0.07},{"s":"M","x":53,"y":0.45,"d":0.07},{"s":"M","x":57,"y":0.4,"d":0.07},{"s":"M","x":60,"y":0.3,"d":0.07},{"s":"M","x":64,"y":0.18,"d":0.06},{"s":"M","x":68,"y":0.1,"d":0.05},{"s":"M","x":72,"y":0.05,"d":0.03},{"s":"M","x":78,"y":0.02,"d":0.02},{"s":"M","x":85,"y":0,"d":0},{"s":"M","x":100,"y":0,"d":0},
{"s":"F","x":0,"y":0,"d":0.01},{"s":"F","x":10,"y":0.02,"d":0.02},{"s":"F","x":20,"y":0.05,"d":0.03},{"s":"F","x":25,"y":0.1,"d":0.06},{"s":"F","x":28,"y":0.16,"d":0.08},{"s":"F","x":30,"y":0.22,"d":0.1},{"s":"F","x":35,"y":0.35,"d":0.12},{"s":"F","x":38,"y":0.43,"d":0.12},{"s":"F","x":42,"y":0.6,"d":0.12},{"s":"F","x":46,"y":0.6,"d":0.12},{"s":"F","x":50,"y":0.62,"d":0.13},{"s":"F","x":53,"y":0.64,"d":0.13},{"s":"F","x":56,"y":0.6,"d":0.12},{"s":"F","x":60,"y":0.45,"d":0.12},{"s":"F","x":63,"y":0.28,"d":0.1},{"s":"F","x":66,"y":0.15,"d":0.08},{"s":"F","x":70,"y":0.08,"d":0.05},{"s":"F","x":75,"y":0.04,"d":0.03},{"s":"F","x":80,"y":0.02,"d":0.02},{"s":"F","x":85,"y":0,"d":0},{"s":"F","x":100,"y":0,"d":0},
{"s":"A","x":0,"y":0.01,"d":0.01},{"s":"A","x":8,"y":0.04,"d":0.02},{"s":"A","x":14,"y":0.08,"d":0.03},{"s":"A","x":18,"y":0.12,"d":0.04},{"s":"A","x":24,"y":0.13,"d":0.05},{"s":"A","x":28,"y":0.18,"d":0.06},{"s":"A","x":34,"y":0.2,"d":0.07},{"s":"A","x":38,"y":0.22,"d":0.07},{"s":"A","x":43,"y":0.28,"d":0.08},{"s":"A","x":46,"y":0.25,"d":0.08},{"s":"A","x":50,"y":0.28,"d":0.08},{"s":"A","x":55,"y":0.3,"d":0.08},{"s":"A","x":59,"y":0.3,"d":0.07},{"s":"A","x":62,"y":0.23,"d":0.06},{"s":"A","x":66,"y":0.13,"d":0.05},{"s":"A","x":70,"y":0.07,"d":0.04},{"s":"A","x":76,"y":0.04,"d":0.02},{"s":"A","x":81,"y":0.02,"d":0.01},{"s":"A","x":86,"y":0,"d":0},{"s":"A","x":100,"y":0,"d":0},
{"s":"S","x":0,"y":0,"d":0},{"s":"S","x":20,"y":0,"d":0},{"s":"S","x":22,"y":0.02,"d":0.02},{"s":"S","x":25,"y":0.05,"d":0.04},{"s":"S","x":28,"y":0.12,"d":0.06},{"s":"S","x":32,"y":0.2,"d":0.1},{"s":"S","x":36,"y":0.35,"d":0.14},{"s":"S","x":39,"y":0.5,"d":0.15},{"s":"S","x":42,"y":0.64,"d":0.15},{"s":"S","x":45,"y":0.62,"d":0.15},{"s":"S","x":47,"y":0.6,"d":0.16},{"s":"S","x":50,"y":0.7,"d":0.2},{"s":"S","x":52,"y":0.75,"d":0.2},{"s":"S","x":54,"y":0.68,"d":0.18},{"s":"S","x":57,"y":0.5,"d":0.14},{"s":"S","x":60,"y":0.3,"d":0.1},{"s":"S","x":62,"y":0.15,"d":0.06},{"s":"S","x":66,"y":0.05,"d":0.03},{"s":"S","x":70,"y":0,"d":0},{"s":"S","x":100,"y":0,"d":0},
{"s":"P","x":0,"y":0,"d":0},{"s":"P","x":10,"y":0.01,"d":0.01},{"s":"P","x":20,"y":0.02,"d":0.02},{"s":"P","x":25,"y":0.05,"d":0.04},{"s":"P","x":28,"y":0.1,"d":0.05},{"s":"P","x":32,"y":0.14,"d":0.06},{"s":"P","x":36,"y":0.18,"d":0.07},{"s":"P","x":40,"y":0.22,"d":0.07},{"s":"P","x":42,"y":0.28,"d":0.07},{"s":"P","x":46,"y":0.25,"d":0.06},{"s":"P","x":49,"y":0.27,"d":0.06},{"s":"P","x":52,"y":0.3,"d":0.07},{"s":"P","x":56,"y":0.28,"d":0.06},{"s":"P","x":60,"y":0.22,"d":0.05},{"s":"P","x":65,"y":0.1,"d":0.04},{"s":"P","x":70,"y":0.03,"d":0.02},{"s":"P","x":75,"y":0,"d":0},{"s":"P","x":100,"y":0,"d":0}
],
"vm":[
{"s":"E","x":0,"y":0.13,"d":0.04},{"s":"E","x":2,"y":0.2,"d":0.03},{"s":"E","x":5,"y":0.19,"d":0.03},{"s":"E","x":8,"y":0.21,"d":0.03},{"s":"E","x":11,"y":0.23,"d":0.03},{"s":"E","x":13,"y":0.24,"d":0.03},{"s":"E","x":16,"y":0.29,"d":0.04},{"s":"E","x":19,"y":0.31,"d":0.04},{"s":"E","x":21,"y":0.35,"d":0.05},{"s":"E","x":23,"y":0.4,"d":0.05},{"s":"E","x":25,"y":0.44,"d":0.05},{"s":"E","x":28,"y":0.47,"d":0.05},{"s":"E","x":30,"y":0.45,"d":0.05},{"s":"E","x":33,"y":0.47,"d":0.05},{"s":"E","x":35,"y":0.51,"d":0.05},{"s":"E","x":38,"y":0.5,"d":0.05},{"s":"E","x":40,"y":0.53,"d":0.05},{"s":"E","x":42,"y":0.56,"d":0.06},{"s":"E","x":43,"y":0.58,"d":0.07},{"s":"E","x":45,"y":0.53,"d":0.07},{"s":"E","x":46.5,"y":0.47,"d":0.06},{"s":"E","x":48,"y":0.52,"d":0.06},{"s":"E","x":50,"y":0.58,"d":0.07},{"s":"E","x":53,"y":0.65,"d":0.08},{"s":"E","x":55,"y":0.72,"d":0.1},{"s":"E","x":56,"y":0.76,"d":0.11},{"s":"E","x":58,"y":0.74,"d":0.1},{"s":"E","x":59,"y":0.76,"d":0.1},{"s":"E","x":61,"y":0.82,"d":0.09},{"s":"E","x":63,"y":0.75,"d":0.08},{"s":"E","x":65,"y":0.71,"d":0.08},{"s":"E","x":67,"y":0.66,"d":0.08},{"s":"E","x":70,"y":0.58,"d":0.07},{"s":"E","x":72,"y":0.5,"d":0.06},{"s":"E","x":75,"y":0.46,"d":0.05},{"s":"E","x":78,"y":0.44,"d":0.04},{"s":"E","x":80,"y":0.42,"d":0.04},{"s":"E","x":82,"y":0.44,"d":0.05},{"s":"E","x":85,"y":0.49,"d":0.06},{"s":"E","x":86.5,"y":0.5,"d":0.07},{"s":"E","x":88,"y":0.42,"d":0.07},{"s":"E","x":90,"y":0.32,"d":0.06},{"s":"E","x":92,"y":0.22,"d":0.05},{"s":"E","x":95,"y":0.19,"d":0.04},{"s":"E","x":98,"y":0.17,"d":0.04},{"s":"E","x":100,"y":0.1,"d":0.05},
{"s":"M","x":0,"y":0,"d":0},{"s":"M","x":10,"y":0.01,"d":0.01},{"s":"M","x":20,"y":0.03,"d":0.02},{"s":"M","x":25,"y":0.06,"d":0.03},{"s":"M","x":30,"y":0.1,"d":0.04},{"s":"M","x":35,"y":0.15,"d":0.05},{"s":"M","x":40,"y":0.19,"d":0.05},{"s":"M","x":43,"y":0.21,"d":0.05},{"s":"M","x":47,"y":0.2,"d":0.05},{"s":"M","x":52,"y":0.22,"d":0.05},{"s":"M","x":55,"y":0.22,"d":0.05},{"s":"M","x":60,"y":0.18,"d":0.05},{"s":"M","x":65,"y":0.1,"d":0.04},{"s":"M","x":70,"y":0.05,"d":0.03},{"s":"M","x":75,"y":0.02,"d":0.02},{"s":"M","x":80,"y":0,"d":0},{"s":"M","x":100,"y":0,"d":0},
{"s":"F","x":0,"y":0,"d":0},{"s":"F","x":10,"y":0.01,"d":0.01},{"s":"F","x":20,"y":0.04,"d":0.03},{"s":"F","x":25,"y":0.08,"d":0.05},{"s":"F","x":30,"y":0.15,"d":0.07},{"s":"F","x":35,"y":0.22,"d":0.08},{"s":"F","x":40,"y":0.28,"d":0.08},{"s":"F","x":43,"y":0.31,"d":0.08},{"s":"F","x":47,"y":0.3,"d":0.08},{"s":"F","x":50,"y":0.33,"d":0.08},{"s":"F","x":55,"y":0.33,"d":0.08},{"s":"F","x":60,"y":0.28,"d":0.07},{"s":"F","x":63,"y":0.18,"d":0.06},{"s":"F","x":66,"y":0.1,"d":0.05},{"s":"F","x":70,"y":0.05,"d":0.03},{"s":"F","x":75,"y":0.02,"d":0.02},{"s":"F","x":80,"y":0,"d":0},{"s":"F","x":100,"y":0,"d":0},
{"s":"A","x":0,"y":0,"d":0.01},{"s":"A","x":5,"y":0.01,"d":0.01},{"s":"A","x":10,"y":0.02,"d":0.01},{"s":"A","x":15,"y":0.03,"d":0.02},{"s":"A","x":20,"y":0.05,"d":0.02},{"s":"A","x":25,"y":0.07,"d":0.03},{"s":"A","x":30,"y":0.09,"d":0.03},{"s":"A","x":35,"y":0.11,"d":0.03},{"s":"A","x":40,"y":0.13,"d":0.03},{"s":"A","x":43,"y":0.14,"d":0.03},{"s":"A","x":47,"y":0.13,"d":0.03},{"s":"A","x":50,"y":0.14,"d":0.03},{"s":"A","x":55,"y":0.15,"d":0.03},{"s":"A","x":60,"y":0.15,"d":0.03},{"s":"A","x":63,"y":0.12,"d":0.03},{"s":"A","x":66,"y":0.08,"d":0.02},{"s":"A","x":70,"y":0.04,"d":0.02},{"s":"A","x":75,"y":0.02,"d":0.01},{"s":"A","x":80,"y":0.01,"d":0.01},{"s":"A","x":85,"y":0,"d":0},{"s":"A","x":100,"y":0,"d":0},
{"s":"S","x":0,"y":0,"d":0},{"s":"S","x":22,"y":0,"d":0},{"s":"S","x":25,"y":0.02,"d":0.02},{"s":"S","x":30,"y":0.07,"d":0.05},{"s":"S","x":35,"y":0.13,"d":0.07},{"s":"S","x":40,"y":0.25,"d":0.12},{"s":"S","x":43,"y":0.38,"d":0.16},{"s":"S","x":46,"y":0.3,"d":0.2},{"s":"S","x":49,"y":0.36,"d":0.18},{"s":"S","x":51,"y":0.38,"d":0.14},{"s":"S","x":55,"y":0.33,"d":0.1},{"s":"S","x":58,"y":0.25,"d":0.08},{"s":"S","x":62,"y":0.12,"d":0.05},{"s":"S","x":66,"y":0.03,"d":0.02},{"s":"S","x":70,"y":0,"d":0},{"s":"S","x":100,"y":0,"d":0},
{"s":"P","x":0,"y":0,"d":0},{"s":"P","x":15,"y":0,"d":0},{"s":"P","x":20,"y":0.02,"d":0.02},{"s":"P","x":25,"y":0.04,"d":0.03},{"s":"P","x":30,"y":0.07,"d":0.03},{"s":"P","x":35,"y":0.1,"d":0.03},{"s":"P","x":40,"y":0.12,"d":0.03},{"s":"P","x":43,"y":0.14,"d":0.03},{"s":"P","x":47,"y":0.13,"d":0.03},{"s":"P","x":50,"y":0.14,"d":0.03},{"s":"P","x":53,"y":0.15,"d":0.03},{"s":"P","x":57,"y":0.14,"d":0.03},{"s":"P","x":60,"y":0.12,"d":0.03},{"s":"P","x":65,"y":0.06,"d":0.03},{"s":"P","x":70,"y":0.02,"d":0.02},{"s":"P","x":75,"y":0,"d":0},{"s":"P","x":100,"y":0,"d":0}
]
},
"vconcat":[
{"hconcat":[
{"title":"biceps femoris long head","data":{"name":"bf"},"width":236,"height":208,
"encoding":{"x":{"field":"x","type":"quantitative","scale":{"domain":[0,100],"nice":false},"axis":{"values":[0,20,40,60,80,100],"labels":false,"title":null}},"y":{"field":"y","type":"quantitative","scale":{"domain":[0,1.2],"nice":false},"axis":{"values":[0,0.2,0.4,0.6,0.8,1,1.2],"format":".1f","title":"Activation"}}},
"layer":[
{"mark":{"type":"errorband","clip":true},"encoding":{"yError":{"field":"d"},"fill":{"field":"s","type":"nominal","scale":{"domain":["P","S","A","F","M","E"],"range":["#1f77b4","#2ca02c","#ff7f0e","#d62728","#9467bd","#000000"]},"legend":null},"opacity":{"field":"s","type":"nominal","scale":{"type":"ordinal","domain":["M","F","A","S","P","E"],"range":[0.24,0.24,0.24,0.24,0.24,0.12]},"legend":null}}},
{"mark":{"type":"line","clip":true},"encoding":{"color":{"field":"s","type":"nominal","scale":{"domain":["E","M","F","A","S","P"],"range":["#000000","#9467bd","#d62728","#ff7f0e","#2ca02c","#1f77b4"]},"legend":{"labelExpr":"datum.label=='E'?'EMG':datum.label=='M'?'Marker-driven':datum.label=='F'?'FE':datum.label=='A'?'FE-AP':datum.label=='S'?'FE-SI':'FE-AP-SI'"}},"strokeDash":{"field":"s","type":"nominal","scale":{"domain":["E","M","F","A","S","P"],"range":[[3.5,2],[4.5,1.5,1.5,1.5],[4.5,6,1.5,6,1.5,6],[5.5,2.4],[10,5],[9.6,2.4,1.5,2.4]]},"legend":{"labelExpr":"datum.label=='E'?'EMG':datum.label=='M'?'Marker-driven':datum.label=='F'?'FE':datum.label=='A'?'FE-AP':datum.label=='S'?'FE-SI':'FE-AP-SI'"}},"strokeWidth":{"field":"s","type":"nominal","scale":{"type":"ordinal","domain":["F","E","M","A","S","P"],"range":[1.6,1.1,1.6,1.6,1.6,1.6]},"legend":null}}}
]},
{"title":"gastrocnemius lateralis","data":{"name":"gl"},"width":236,"height":208,
"encoding":{"x":{"field":"x","type":"quantitative","scale":{"domain":[0,100],"nice":false},"axis":{"values":[0,20,40,60,80,100],"labels":false,"title":null}},"y":{"field":"y","type":"quantitative","scale":{"domain":[0,1.2],"nice":false},"axis":{"values":[0,0.2,0.4,0.6,0.8,1,1.2],"format":".1f","title":null}}},
"layer":[
{"mark":{"type":"errorband","clip":true},"encoding":{"yError":{"field":"d"},"fill":{"field":"s","type":"nominal","scale":{"domain":["P","S","A","F","M","E"],"range":["#1f77b4","#2ca02c","#ff7f0e","#d62728","#9467bd","#000000"]},"legend":null},"opacity":{"field":"s","type":"nominal","scale":{"type":"ordinal","domain":["M","F","A","S","P","E"],"range":[0.24,0.24,0.24,0.24,0.24,0.12]},"legend":null}}},
{"mark":{"type":"line","clip":true},"encoding":{"color":{"field":"s","type":"nominal","scale":{"domain":["E","M","F","A","S","P"],"range":["#000000","#9467bd","#d62728","#ff7f0e","#2ca02c","#1f77b4"]},"legend":{"labelExpr":"datum.label=='E'?'EMG':datum.label=='M'?'Marker-driven':datum.label=='F'?'FE':datum.label=='A'?'FE-AP':datum.label=='S'?'FE-SI':'FE-AP-SI'"}},"strokeDash":{"field":"s","type":"nominal","scale":{"domain":["E","M","F","A","S","P"],"range":[[3.5,2],[4.5,1.5,1.5,1.5],[4.5,6,1.5,6,1.5,6],[5.5,2.4],[10,5],[9.6,2.4,1.5,2.4]]},"legend":{"labelExpr":"datum.label=='E'?'EMG':datum.label=='M'?'Marker-driven':datum.label=='F'?'FE':datum.label=='A'?'FE-AP':datum.label=='S'?'FE-SI':'FE-AP-SI'"}},"strokeWidth":{"field":"s","type":"nominal","scale":{"type":"ordinal","domain":["F","E","M","A","S","P"],"range":[1.6,1.1,1.6,1.6,1.6,1.6]},"legend":null}}}
]},
{"title":"gastrocnemius medialis","data":{"name":"gm"},"width":236,"height":208,
"encoding":{"x":{"field":"x","type":"quantitative","scale":{"domain":[0,100],"nice":false},"axis":{"values":[0,20,40,60,80,100],"labels":false,"title":null}},"y":{"field":"y","type":"quantitative","scale":{"domain":[0,1.2],"nice":false},"axis":{"values":[0,0.2,0.4,0.6,0.8,1,1.2],"format":".1f","title":null}}},
"layer":[
{"mark":{"type":"errorband","clip":true},"encoding":{"yError":{"field":"d"},"fill":{"field":"s","type":"nominal","scale":{"domain":["P","S","A","F","M","E"],"range":["#1f77b4","#2ca02c","#ff7f0e","#d62728","#9467bd","#000000"]},"legend":null},"opacity":{"field":"s","type":"nominal","scale":{"type":"ordinal","domain":["M","F","A","S","P","E"],"range":[0.24,0.24,0.24,0.24,0.24,0.12]},"legend":null}}},
{"mark":{"type":"line","clip":true},"encoding":{"color":{"field":"s","type":"nominal","scale":{"domain":["E","M","F","A","S","P"],"range":["#000000","#9467bd","#d62728","#ff7f0e","#2ca02c","#1f77b4"]},"legend":{"labelExpr":"datum.label=='E'?'EMG':datum.label=='M'?'Marker-driven':datum.label=='F'?'FE':datum.label=='A'?'FE-AP':datum.label=='S'?'FE-SI':'FE-AP-SI'"}},"strokeDash":{"field":"s","type":"nominal","scale":{"domain":["E","M","F","A","S","P"],"range":[[3.5,2],[4.5,1.5,1.5,1.5],[4.5,6,1.5,6,1.5,6],[5.5,2.4],[10,5],[9.6,2.4,1.5,2.4]]},"legend":{"labelExpr":"datum.label=='E'?'EMG':datum.label=='M'?'Marker-driven':datum.label=='F'?'FE':datum.label=='A'?'FE-AP':datum.label=='S'?'FE-SI':'FE-AP-SI'"}},"strokeWidth":{"field":"s","type":"nominal","scale":{"type":"ordinal","domain":["F","E","M","A","S","P"],"range":[1.6,1.1,1.6,1.6,1.6,1.6]},"legend":null}}}
]},
{"title":"rectus femoris","data":{"name":"rf"},"width":236,"height":208,
"encoding":{"x":{"field":"x","type":"quantitative","scale":{"domain":[0,100],"nice":false},"axis":{"values":[0,20,40,60,80,100],"labels":false,"title":null}},"y":{"field":"y","type":"quantitative","scale":{"domain":[0,1.2],"nice":false},"axis":{"values":[0,0.2,0.4,0.6,0.8,1,1.2],"format":".1f","title":null}}},
"layer":[
{"mark":{"type":"errorband","clip":true},"encoding":{"yError":{"field":"d"},"fill":{"field":"s","type":"nominal","scale":{"domain":["P","S","A","F","M","E"],"range":["#1f77b4","#2ca02c","#ff7f0e","#d62728","#9467bd","#000000"]},"legend":null},"opacity":{"field":"s","type":"nominal","scale":{"type":"ordinal","domain":["M","F","A","S","P","E"],"range":[0.24,0.24,0.24,0.24,0.24,0.12]},"legend":null}}},
{"mark":{"type":"line","clip":true},"encoding":{"color":{"field":"s","type":"nominal","scale":{"domain":["E","M","F","A","S","P"],"range":["#000000","#9467bd","#d62728","#ff7f0e","#2ca02c","#1f77b4"]},"legend":{"labelExpr":"datum.label=='E'?'EMG':datum.label=='M'?'Marker-driven':datum.label=='F'?'FE':datum.label=='A'?'FE-AP':datum.label=='S'?'FE-SI':'FE-AP-SI'"}},"strokeDash":{"field":"s","type":"nominal","scale":{"domain":["E","M","F","A","S","P"],"range":[[3.5,2],[4.5,1.5,1.5,1.5],[4.5,6,1.5,6,1.5,6],[5.5,2.4],[10,5],[9.6,2.4,1.5,2.4]]},"legend":{"labelExpr":"datum.label=='E'?'EMG':datum.label=='M'?'Marker-driven':datum.label=='F'?'FE':datum.label=='A'?'FE-AP':datum.label=='S'?'FE-SI':'FE-AP-SI'"}},"strokeWidth":{"field":"s","type":"nominal","scale":{"type":"ordinal","domain":["F","E","M","A","S","P"],"range":[1.6,1.1,1.6,1.6,1.6,1.6]},"legend":null}}}
]}
],"spacing":51,"bounds":"flush"},
{"hconcat":[
{"title":"semitendinosus","data":{"name":"st"},"width":236,"height":208,
"encoding":{"x":{"field":"x","type":"quantitative","scale":{"domain":[0,100],"nice":false},"axis":{"values":[0,20,40,60,80,100],"title":null}},"y":{"field":"y","type":"quantitative","scale":{"domain":[0,1.2],"nice":false},"axis":{"values":[0,0.2,0.4,0.6,0.8,1,1.2],"format":".1f","title":"Activation"}}},
"layer":[
{"mark":{"type":"errorband","clip":true},"encoding":{"yError":{"field":"d"},"fill":{"field":"s","type":"nominal","scale":{"domain":["P","S","A","F","M","E"],"range":["#1f77b4","#2ca02c","#ff7f0e","#d62728","#9467bd","#000000"]},"legend":null},"opacity":{"field":"s","type":"nominal","scale":{"type":"ordinal","domain":["M","F","A","S","P","E"],"range":[0.24,0.24,0.24,0.24,0.24,0.12]},"legend":null}}},
{"mark":{"type":"line","clip":true},"encoding":{"color":{"field":"s","type":"nominal","scale":{"domain":["E","M","F","A","S","P"],"range":["#000000","#9467bd","#d62728","#ff7f0e","#2ca02c","#1f77b4"]},"legend":{"labelExpr":"datum.label=='E'?'EMG':datum.label=='M'?'Marker-driven':datum.label=='F'?'FE':datum.label=='A'?'FE-AP':datum.label=='S'?'FE-SI':'FE-AP-SI'"}},"strokeDash":{"field":"s","type":"nominal","scale":{"domain":["E","M","F","A","S","P"],"range":[[3.5,2],[4.5,1.5,1.5,1.5],[4.5,6,1.5,6,1.5,6],[5.5,2.4],[10,5],[9.6,2.4,1.5,2.4]]},"legend":{"labelExpr":"datum.label=='E'?'EMG':datum.label=='M'?'Marker-driven':datum.label=='F'?'FE':datum.label=='A'?'FE-AP':datum.label=='S'?'FE-SI':'FE-AP-SI'"}},"strokeWidth":{"field":"s","type":"nominal","scale":{"type":"ordinal","domain":["F","E","M","A","S","P"],"range":[1.6,1.1,1.6,1.6,1.6,1.6]},"legend":null}}}
]},
{"title":"tibialis anterior","data":{"name":"ta"},"width":236,"height":208,
"encoding":{"x":{"field":"x","type":"quantitative","scale":{"domain":[0,100],"nice":false},"axis":{"values":[0,20,40,60,80,100],"title":null}},"y":{"field":"y","type":"quantitative","scale":{"domain":[0,1.2],"nice":false},"axis":{"values":[0,0.2,0.4,0.6,0.8,1,1.2],"format":".1f","title":null}}},
"layer":[
{"mark":{"type":"errorband","clip":true},"encoding":{"yError":{"field":"d"},"fill":{"field":"s","type":"nominal","scale":{"domain":["P","S","A","F","M","E"],"range":["#1f77b4","#2ca02c","#ff7f0e","#d62728","#9467bd","#000000"]},"legend":null},"opacity":{"field":"s","type":"nominal","scale":{"type":"ordinal","domain":["M","F","A","S","P","E"],"range":[0.24,0.24,0.24,0.24,0.24,0.12]},"legend":null}}},
{"mark":{"type":"line","clip":true},"encoding":{"color":{"field":"s","type":"nominal","scale":{"domain":["E","M","F","A","S","P"],"range":["#000000","#9467bd","#d62728","#ff7f0e","#2ca02c","#1f77b4"]},"legend":{"labelExpr":"datum.label=='E'?'EMG':datum.label=='M'?'Marker-driven':datum.label=='F'?'FE':datum.label=='A'?'FE-AP':datum.label=='S'?'FE-SI':'FE-AP-SI'"}},"strokeDash":{"field":"s","type":"nominal","scale":{"domain":["E","M","F","A","S","P"],"range":[[3.5,2],[4.5,1.5,1.5,1.5],[4.5,6,1.5,6,1.5,6],[5.5,2.4],[10,5],[9.6,2.4,1.5,2.4]]},"legend":{"labelExpr":"datum.label=='E'?'EMG':datum.label=='M'?'Marker-driven':datum.label=='F'?'FE':datum.label=='A'?'FE-AP':datum.label=='S'?'FE-SI':'FE-AP-SI'"}},"strokeWidth":{"field":"s","type":"nominal","scale":{"type":"ordinal","domain":["F","E","M","A","S","P"],"range":[1.6,1.1,1.6,1.6,1.6,1.6]},"legend":null}}}
]},
{"title":"vastus lateralis","data":{"name":"vl"},"width":236,"height":208,
"encoding":{"x":{"field":"x","type":"quantitative","scale":{"domain":[0,100],"nice":false},"axis":{"values":[0,20,40,60,80,100],"title":null}},"y":{"field":"y","type":"quantitative","scale":{"domain":[0,1.2],"nice":false},"axis":{"values":[0,0.2,0.4,0.6,0.8,1,1.2],"format":".1f","title":null}}},
"layer":[
{"mark":{"type":"errorband","clip":true},"encoding":{"yError":{"field":"d"},"fill":{"field":"s","type":"nominal","scale":{"domain":["P","S","A","F","M","E"],"range":["#1f77b4","#2ca02c","#ff7f0e","#d62728","#9467bd","#000000"]},"legend":null},"opacity":{"field":"s","type":"nominal","scale":{"type":"ordinal","domain":["M","F","A","S","P","E"],"range":[0.24,0.24,0.24,0.24,0.24,0.12]},"legend":null}}},
{"mark":{"type":"line","clip":true},"encoding":{"color":{"field":"s","type":"nominal","scale":{"domain":["E","M","F","A","S","P"],"range":["#000000","#9467bd","#d62728","#ff7f0e","#2ca02c","#1f77b4"]},"legend":{"labelExpr":"datum.label=='E'?'EMG':datum.label=='M'?'Marker-driven':datum.label=='F'?'FE':datum.label=='A'?'FE-AP':datum.label=='S'?'FE-SI':'FE-AP-SI'"}},"strokeDash":{"field":"s","type":"nominal","scale":{"domain":["E","M","F","A","S","P"],"range":[[3.5,2],[4.5,1.5,1.5,1.5],[4.5,6,1.5,6,1.5,6],[5.5,2.4],[10,5],[9.6,2.4,1.5,2.4]]},"legend":{"labelExpr":"datum.label=='E'?'EMG':datum.label=='M'?'Marker-driven':datum.label=='F'?'FE':datum.label=='A'?'FE-AP':datum.label=='S'?'FE-SI':'FE-AP-SI'"}},"strokeWidth":{"field":"s","type":"nominal","scale":{"type":"ordinal","domain":["F","E","M","A","S","P"],"range":[1.6,1.1,1.6,1.6,1.6,1.6]},"legend":null}}}
]},
{"title":"vastus medialis","data":{"name":"vm"},"width":236,"height":208,
"encoding":{"x":{"field":"x","type":"quantitative","scale":{"domain":[0,100],"nice":false},"axis":{"values":[0,20,40,60,80,100],"title":null}},"y":{"field":"y","type":"quantitative","scale":{"domain":[0,1.2],"nice":false},"axis":{"values":[0,0.2,0.4,0.6,0.8,1,1.2],"format":".1f","title":null}}},
"layer":[
{"mark":{"type":"errorband","clip":true},"encoding":{"yError":{"field":"d"},"fill":{"field":"s","type":"nominal","scale":{"domain":["P","S","A","F","M","E"],"range":["#1f77b4","#2ca02c","#ff7f0e","#d62728","#9467bd","#000000"]},"legend":null},"opacity":{"field":"s","type":"nominal","scale":{"type":"ordinal","domain":["M","F","A","S","P","E"],"range":[0.24,0.24,0.24,0.24,0.24,0.12]},"legend":null}}},
{"mark":{"type":"line","clip":true},"encoding":{"color":{"field":"s","type":"nominal","scale":{"domain":["E","M","F","A","S","P"],"range":["#000000","#9467bd","#d62728","#ff7f0e","#2ca02c","#1f77b4"]},"legend":{"labelExpr":"datum.label=='E'?'EMG':datum.label=='M'?'Marker-driven':datum.label=='F'?'FE':datum.label=='A'?'FE-AP':datum.label=='S'?'FE-SI':'FE-AP-SI'"}},"strokeDash":{"field":"s","type":"nominal","scale":{"domain":["E","M","F","A","S","P"],"range":[[3.5,2],[4.5,1.5,1.5,1.5],[4.5,6,1.5,6,1.5,6],[5.5,2.4],[10,5],[9.6,2.4,1.5,2.4]]},"legend":{"labelExpr":"datum.label=='E'?'EMG':datum.label=='M'?'Marker-driven':datum.label=='F'?'FE':datum.label=='A'?'FE-AP':datum.label=='S'?'FE-SI':'FE-AP-SI'"}},"strokeWidth":{"field":"s","type":"nominal","scale":{"type":"ordinal","domain":["F","E","M","A","S","P"],"range":[1.6,1.1,1.6,1.6,1.6,1.6]},"legend":null}}}
]}
],"spacing":51,"bounds":"flush","title":{"text":"Squatting trial [%]","orient":"bottom","anchor":"middle","fontSize":15.5,"offset":35}}
]
}
